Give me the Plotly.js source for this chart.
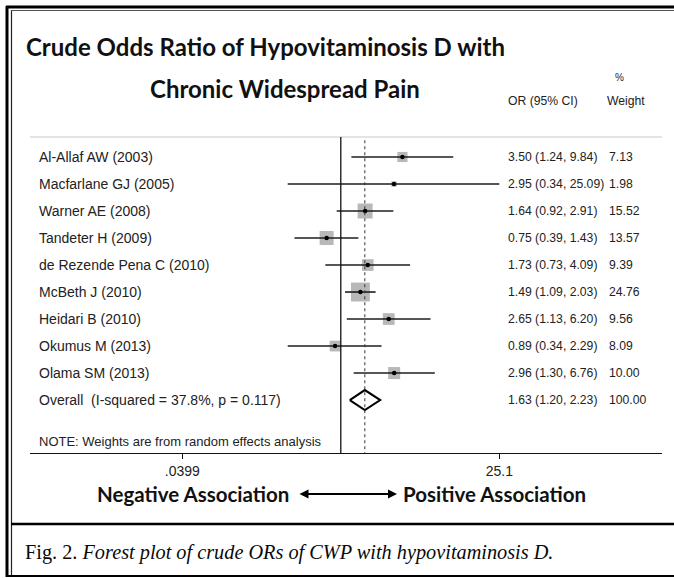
<!DOCTYPE html>
<html>
<head>
<meta charset="utf-8">
<script src="https://cdn.plot.ly/plotly-3.0.1.min.js"></script>
<style>html,body{margin:0;padding:0;background:#fff;}#chart{width:674px;height:578px;}</style>
</head>
<body>
<div id="chart"></div>
<script>
// ---- data ----
const studies = ['Al-Allaf AW (2003)', 'Macfarlane GJ (2005)', 'Warner AE (2008)', 'Tandeter H (2009)',
  'de Rezende Pena C (2010)', 'McBeth J (2010)', 'Heidari B (2010)', 'Okumus M (2013)', 'Olama SM (2013)'];
const oddsRatio = [3.50, 2.95, 1.64, 0.75, 1.73, 1.49, 2.65, 0.89, 2.96];
const ciLow = [1.24, 0.34, 0.92, 0.39, 0.73, 1.09, 1.13, 0.34, 1.30];
const ciHigh = [9.84, 25.09, 2.91, 1.43, 4.09, 2.03, 6.20, 2.29, 6.76];
const weights = [7.13, 1.98, 15.52, 13.57, 9.39, 24.76, 9.56, 8.09, 10.00];
const overallLabel = 'Overall  (I-squared = 37.8%, p = 0.117)';
const overallOR = 1.63, overallLow = 1.20, overallHigh = 2.23, overallWeight = 100.00;
const tickVals = [0.0399, 25.1];
const tickText = ['.0399', '25.1'];
const noteText = 'NOTE: Weights are from random effects analysis';

// ---- helpers (pixel -> paper) ----
const PL = 30, PR = 662, PT = 137, PB = 453;
const px = v => (v - PL) / (PR - PL);
const py = v => (PB - v) / (PB - PT);
const rows = studies.map((_, i) => i);
const overallRow = studies.length;

const ciX = [], ciY = [];
rows.forEach(i => { ciX.push(ciLow[i], ciHigh[i], null); ciY.push(i, i, null); });

const dh = 0.37;
const traces = [
  { x: oddsRatio, y: rows, type: 'scatter', mode: 'markers', hoverinfo: 'skip',
    marker: { symbol: 'square', size: weights.map(w => 3.8 * Math.sqrt(w)), color: '#9a9a9a', line: { width: 0 } } },
  { x: ciX, y: ciY, type: 'scatter', mode: 'lines', hoverinfo: 'skip',
    line: { color: '#1e1e1e', width: 1.6 } },
  { x: oddsRatio, y: rows, type: 'scatter', mode: 'markers', hoverinfo: 'skip',
    marker: { symbol: 'circle', size: 4.5, color: '#000' } },
  { x: [overallLow, overallOR, overallHigh, overallOR, overallLow],
    y: [overallRow, overallRow - dh, overallRow, overallRow + dh, overallRow],
    type: 'scatter', mode: 'lines', hoverinfo: 'skip', line: { color: '#000', width: 2 } }
];

const txtFont = { family: 'Liberation Sans, Arial, sans-serif', size: 14, color: '#222' };
const numFont = { family: 'Liberation Sans, Arial, sans-serif', size: 12.2, color: '#222' };
const boldFont = (s) => ({ family: 'Lato, Calibri, sans-serif', size: s, color: '#111', weight: 'bold' });

const ann = [];
studies.concat([overallLabel]).forEach((s, i) => {
  ann.push({ xref: 'paper', yref: 'y', x: px(37), y: i, text: s, showarrow: false,
    xanchor: 'left', yanchor: 'middle', font: txtFont });
});
oddsRatio.concat([overallOR]).forEach((o, i) => {
  const lo = i < studies.length ? ciLow[i] : overallLow;
  const hi = i < studies.length ? ciHigh[i] : overallHigh;
  const w = i < studies.length ? weights[i] : overallWeight;
  ann.push({ xref: 'paper', yref: 'y', x: px(506), y: i,
    text: o.toFixed(2) + ' (' + lo.toFixed(2) + ', ' + hi.toFixed(2) + ')', showarrow: false,
    xanchor: 'left', yanchor: 'middle', font: numFont });
  ann.push({ xref: 'paper', yref: 'y', x: px(607), y: i, text: w.toFixed(2), showarrow: false,
    xanchor: 'left', yanchor: 'middle', font: numFont });
});
ann.push({ xref: 'paper', yref: 'y', x: px(37), y: 10.52, text: noteText, showarrow: false,
  xanchor: 'left', yanchor: 'middle', font: { family: 'Liberation Sans, Arial, sans-serif', size: 13, color: '#222' } });
// headers
ann.push({ xref: 'paper', yref: 'paper', x: px(506), y: py(101), text: 'OR (95% CI)', showarrow: false,
  xanchor: 'left', yanchor: 'middle', font: numFont });
ann.push({ xref: 'paper', yref: 'paper', x: px(605), y: py(101), text: 'Weight', showarrow: false,
  xanchor: 'left', yanchor: 'middle', font: numFont });
ann.push({ xref: 'paper', yref: 'paper', x: px(613), y: py(78), text: '%', showarrow: false,
  xanchor: 'left', yanchor: 'middle', font: { family: 'Liberation Sans, Arial, sans-serif', size: 10, color: '#222' } });
// title
ann.push({ xref: 'paper', yref: 'paper', x: px(24), y: py(46), text: 'Crude Odds Ratio of Hypovitaminosis D with',
  showarrow: false, xanchor: 'left', yanchor: 'middle', font: boldFont(24) });
ann.push({ xref: 'paper', yref: 'paper', x: px(285), y: py(88), text: 'Chronic Widespread Pain',
  showarrow: false, xanchor: 'center', yanchor: 'middle', font: boldFont(24) });
// bottom association labels
ann.push({ xref: 'paper', yref: 'paper', x: px(291), y: py(494), text: 'Negative Association',
  showarrow: false, xanchor: 'right', yanchor: 'middle', font: boldFont(20.5) });
ann.push({ xref: 'paper', yref: 'paper', x: px(401), y: py(494), text: 'Positive Association',
  showarrow: false, xanchor: 'left', yanchor: 'middle', font: boldFont(20.5) });
ann.push({ xref: 'paper', yref: 'paper', x: px(397), y: py(494), ax: -99, ay: 0, axref: 'pixel', ayref: 'pixel',
  text: '', showarrow: true, arrowside: 'end+start', arrowhead: 2, arrowsize: 1, arrowwidth: 1.8,
  arrowcolor: '#000', standoff: 0, startstandoff: 0 });
// caption
ann.push({ xref: 'paper', yref: 'paper', x: px(23), y: py(552),
  text: 'Fig. 2. <i>Forest plot of crude ORs of CWP with hypovitaminosis D.</i>',
  showarrow: false, xanchor: 'left', yanchor: 'middle',
  font: { family: 'Liberation Serif, Times New Roman, serif', size: 20.3, color: '#0a0a0a' } });

const shapes = [
  // plot top gray line
  { type: 'line', xref: 'paper', yref: 'paper', x0: 0, x1: 1, y0: 1, y1: 1, line: { color: '#c8c8c8', width: 1 } },
  // null line
  { type: 'line', xref: 'x', yref: 'y', x0: 1, x1: 1, y0: -0.74, y1: 11.15, line: { color: '#111', width: 1.3 } },
  // overall dashed line
  { type: 'line', xref: 'x', yref: 'y', x0: overallOR, x1: overallOR, y0: -0.62, y1: 10.96,
    line: { color: '#333', width: 1, dash: '3px,3px' } },
  // frame
  { type: 'line', xref: 'paper', yref: 'paper', x0: px(7), x1: px(7), y0: py(6), y1: py(577), line: { color: '#000', width: 3 } },
  { type: 'line', xref: 'paper', yref: 'paper', x0: px(11.5), x1: px(11.5), y0: py(10), y1: py(575), line: { color: '#222', width: 1.2 } },
  { type: 'line', xref: 'paper', yref: 'paper', x0: px(6), x1: px(674), y0: py(7), y1: py(7), line: { color: '#000', width: 3 } },
  { type: 'line', xref: 'paper', yref: 'paper', x0: px(11), x1: px(674), y0: py(10.5), y1: py(10.5), line: { color: '#555', width: 1.2 } },
  { type: 'line', xref: 'paper', yref: 'paper', x0: px(11), x1: px(674), y0: py(524), y1: py(524), line: { color: '#000', width: 2.5 } },
  { type: 'line', xref: 'paper', yref: 'paper', x0: px(6), x1: px(674), y0: py(576), y1: py(576), line: { color: '#000', width: 2 } }
];

const layout = {
  width: 674, height: 578,
  margin: { l: PL, r: 674 - PR, t: PT, b: 578 - PB, pad: 0 },
  paper_bgcolor: '#fff', plot_bgcolor: '#fff',
  showlegend: false,
  xaxis: {
    type: 'log', range: [-2.744, 2.836], showgrid: false, zeroline: false,
    showline: true, linecolor: '#111', linewidth: 1.3,
    ticks: 'outside', ticklen: 5, tickwidth: 1.2, tickcolor: '#111',
    tickvals: tickVals, ticktext: tickText,
    tickfont: { family: 'Liberation Sans, Arial, sans-serif', size: 14, color: '#222' }
  },
  yaxis: { range: [10.96, -0.74], visible: false, showgrid: false, zeroline: false },
  annotations: ann,
  shapes: shapes
};

Plotly.newPlot('chart', traces, layout, { staticPlot: true, displayModeBar: false });
</script>
</body>
</html>
